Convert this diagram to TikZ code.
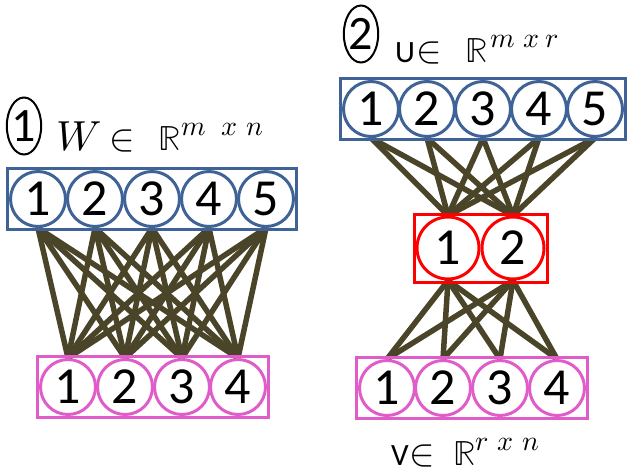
\documentclass[tikz,border=0pt]{standalone}
\usepackage{fontspec}
\usepackage{unicode-math}
\setmathfont{Latin Modern Math}
\newfontfamily\digitfont{Carlito}
\usetikzlibrary{fit,backgrounds,shapes.geometric}
\definecolor{nodeblue}{HTML}{3F6396}
\definecolor{nodepink}{HTML}{E05CC8}
\definecolor{nodered}{HTML}{FF0000}
\definecolor{edgecol}{HTML}{4A4429}
\tikzset{
  neuron/.style={circle, draw, fill=white, line width=3pt, inner sep=0pt, minimum size=#1, font=\digitfont\fontsize{52}{52}\selectfont},
  neuron/.default=55pt,
  layerbox/.style={draw, line width=3pt, inner sep=1.5pt, rectangle},
  edge/.style={draw=edgecol, line width=5.5pt},
  tag/.style={ellipse, draw, line width=2pt, inner sep=0pt, minimum width=32pt, minimum height=57pt, font=\digitfont\fontsize{48}{48}\selectfont},
  mathlbl/.style={anchor=base west, inner sep=0pt, font=\fontsize{38}{40}\selectfont},
}
\newcommand{\uvletter}[1]{{\digitfont\fontsize{31}{31}\selectfont #1}}
\newcommand{\bigW}{{\fontsize{42}{42}\selectfont$W$}}
\newcommand{\dsR}{{\fontsize{35}{35}\selectfont$\mathbb{R}$}}
\newcommand{\supscr}[1]{\raisebox{15pt}{\fontsize{28}{28}\selectfont #1}}
\begin{document}
\begin{tikzpicture}[x=1pt,y=-1pt]
\useasboundingbox (0,0) rectangle (628,472);
% left network
\foreach \i/\x in {1/38,2/95,3/152,4/209,5/266}
  \node[neuron, draw=nodeblue] (t\i) at (\x,199) {\i};
\node[layerbox, draw=nodeblue, fit=(t1)(t5)] (tbox) {};
\foreach \i/\x in {1/68,2/125,3/182,4/238}
  \node[neuron, draw=nodepink] (b\i) at (\x,387) {\i};
\node[layerbox, draw=nodepink, fit=(b1)(b4)] (bbox) {};
% right network
\foreach \i/\x in {1/371,2/427,3/483,4/539,5/595}
  \node[neuron, draw=nodeblue] (u\i) at (\x,109) {\i};
\node[layerbox, draw=nodeblue, fit=(u1)(u5)] (ubox) {};
\foreach \i/\x in {1/448,2/513}
  \node[neuron=62pt, draw=nodered] (r\i) at (\x,248) {\i};
\node[layerbox, draw=nodered, fit=(r1)(r2)] (rbox) {};
\foreach \i/\x in {1/387,2/443,3/500,4/557}
  \node[neuron, draw=nodepink] (v\i) at (\x,388) {\i};
\node[layerbox, draw=nodepink, fit=(v1)(v4)] (vbox) {};
% edges
\begin{pgfonlayer}{background}
\foreach \i in {1,...,5}
  \foreach \j in {1,...,4}
    \draw[edge] (t\i.south) -- (b\j.north);
\foreach \i in {1,...,5}
  \foreach \j in {1,2}
    \draw[edge] (u\i.south) -- (r\j.north);
\foreach \i in {1,2}
  \foreach \j in {1,...,4}
    \draw[edge] (r\i.south) -- (v\j.north);
\end{pgfonlayer}
% labels
\node[tag] (tag1) at (24,126) {1};
\node[mathlbl] (lblW) at (56,150) {\bigW\hspace{8pt}$\in$\hspace{24pt}\dsR\supscr{$m$\hspace{16pt}$x$\hspace{9pt}$n$}};
\node[tag] (tag2) at (361,34) {2};
\node[mathlbl] (lblU) at (395,62) {\uvletter{U}\hspace{1pt}$\in$\hspace{24pt}\dsR\hspace{3pt}\supscr{$m$\hspace{8pt}$x$\hspace{6pt}$r$}};
\node[mathlbl] (lblV) at (391,465) {\uvletter{V}\hspace{1pt}$\in$\hspace{18pt}\dsR\supscr{$r$\hspace{9pt}$x$\hspace{9pt}$n$}};
\end{tikzpicture}
\end{document}
